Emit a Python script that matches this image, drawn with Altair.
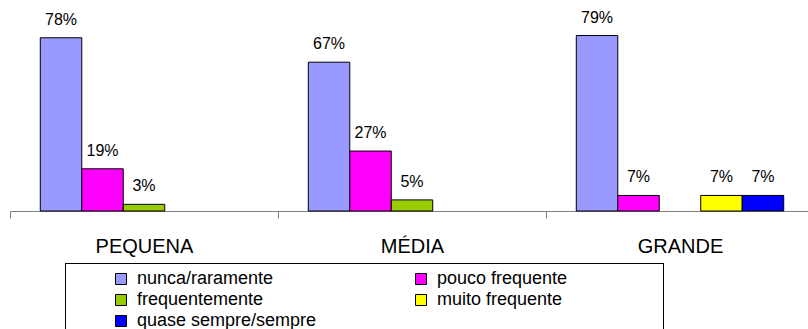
import altair as alt
import pandas as pd

# Company-size groups and response categories
groups = ["PEQUENA", "MÉDIA", "GRANDE"]
series = [
    "nunca/raramente",
    "pouco frequente",
    "frequentemente",
    "muito frequente",
    "quase sempre/sempre",
]
colors = ["#9999FF", "#FF00FF", "#99CC00", "#FFFF00", "#0000FF"]

# Percentages per group (None = no answers in that category)
nunca_raramente = [78, 67, 79]
pouco_frequente = [19, 27, 7]
frequentemente = [3, 5, None]
muito_frequente = [None, None, 7]
quase_sempre = [None, None, 7]

columns = [nunca_raramente, pouco_frequente, frequentemente, muito_frequente, quase_sempre]
rows = []
for name, vals in zip(series, columns):
    for g, v in zip(groups, vals):
        if v is not None:
            rows.append({"group": g, "series": name, "value": v})
df = pd.DataFrame(rows)

FONT = "Liberation Sans"

x_enc = alt.X(
    "group:N",
    sort=groups,
    scale=alt.Scale(domain=groups, range=[0, 804], paddingInner=0, paddingOuter=0),
    axis=alt.Axis(
        title=None,
        tickBand="extent",
        tickSize=7,
        tickColor="#808080",
        domainColor="#808080",
        labelFont=FONT,
        labelFontSize=20,
        labelColor="black",
        labelAngle=0,
        labelBaseline="alphabetic",
        labelPadding=34,
    ),
)
xoff_enc = alt.XOffset(
    "series:N",
    sort=series,
    scale=alt.Scale(domain=series, paddingInner=0, paddingOuter=0.73),
)
y_enc = alt.Y("value:Q", scale=alt.Scale(domain=[0, 95]), axis=None)

base = alt.Chart(df).encode(x=x_enc, xOffset=xoff_enc, y=y_enc)

bars = base.mark_bar(stroke="black", strokeWidth=1).encode(
    color=alt.Color(
        "series:N",
        sort=series,
        scale=alt.Scale(domain=series, range=colors),
        legend=alt.Legend(
            title=None,
            orient="none",
            legendX=55,
            legendY=264,
            direction="horizontal",
            columns=2,
            gridAlign="all",
            labelFont=FONT,
            labelFontSize=18,
            labelColor="black",
            labelLimit=400,
            symbolType="square",
            symbolSize=121,
            symbolStrokeColor="black",
            symbolStrokeWidth=1,
            symbolOpacity=1,
            symbolOffset=41,
            labelOffset=7,
            padding=6,
            rowPadding=3,
            columnPadding=54,
        ),
    )
)

labels = (
    base.transform_calculate(label="format(datum.value, 'd') + '%'")
    .mark_text(font=FONT, fontSize=16, color="black", baseline="alphabetic", dy=-13)
    .encode(text="label:N")
)

# frame around the legend, running off the bottom edge
legend_frame = alt.Chart(df).mark_rect(
    fill=None, stroke="black", strokeWidth=1
).encode(
    x=alt.value(55.5), x2=alt.value(653.5), y=alt.value(263.5), y2=alt.value(400)
)

chart = (
    alt.layer(bars, labels, legend_frame)
    .properties(
        width=798,
        height=211,
        autosize=alt.AutoSizeParams(type="none"),
        padding={"left": 10, "top": 0, "right": 0, "bottom": 118},
    )
    .configure_view(stroke=None)
)

chart.save("out.html", embed_options={"renderer": "svg", "actions": False})
